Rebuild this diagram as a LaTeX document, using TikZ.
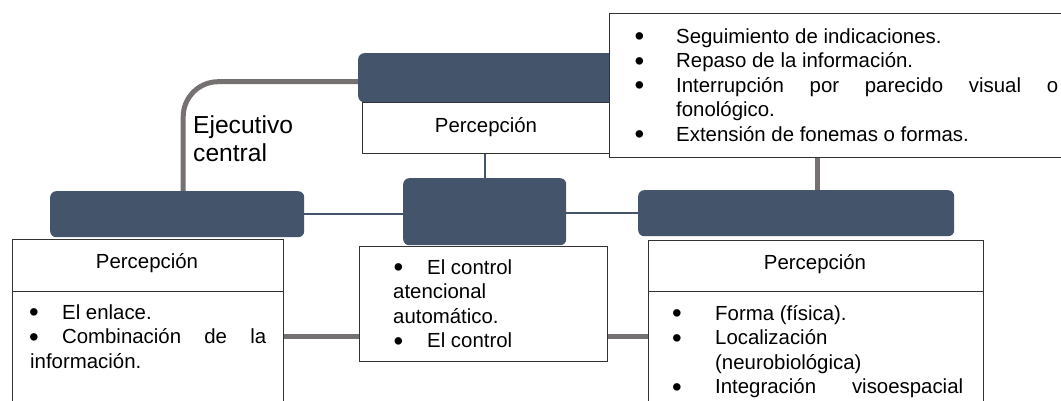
\documentclass[tikz,border=0pt]{standalone}
\usepackage{fontspec}
\usepackage{graphicx}
\setmainfont{Liberation Sans}
\definecolor{hdr}{HTML}{44546A}
\definecolor{conn}{HTML}{767171}
\definecolor{edge}{HTML}{333333}
\newcommand\bodyfont{\fontsize{20.4}{24.5}\selectfont}
\newcommand\bigfont{\fontsize{24.6}{28}\selectfont}
\newcommand\firststrut{\rule{0pt}{20pt}}
\newcommand\bigdot{\raisebox{-2.4pt}{\scalebox{1.35}{\textbullet}}}
\newcommand\bul[1]{\makebox[#1][l]{\hspace*{-1pt}\bigdot}}
\pgfdeclarelayer{background}
\pgfsetlayers{background,main}
\begin{document}
\begin{tikzpicture}[x=1pt,y=-1pt,
  darkbox/.style={fill=hdr, draw=none, rounded corners=6pt, anchor=north west, inner sep=0pt},
  wbox/.style={draw=edge, fill=white, line width=1.4pt, anchor=north west, inner sep=0pt},
  gline/.style={draw=conn, line width=5pt},
  tline/.style={draw=hdr, line width=1.6pt},
  lbl/.style={inner sep=0pt, font=\bodyfont},
  body/.style={anchor=north west, inner sep=0pt, align=left, font=\bodyfont}]

\useasboundingbox (0,0) rectangle (1061,400);
\clip (0,0) rectangle (1061,400);

% dark header bars
\node[darkbox, minimum width=257pt, minimum height=49pt] (topbar) at (358,53) {};
\node[darkbox, minimum width=254pt, minimum height=46pt] (leftbar) at (50,191) {};
\node[darkbox, minimum width=163pt, minimum height=67pt] (midbar) at (403,178) {};
\node[darkbox, minimum width=316pt, minimum height=46pt] (rightbar) at (638,190) {};

% white boxes
\node[wbox, minimum width=250pt, minimum height=51pt] (topperc) at (362,102) {};
\node[wbox, minimum width=271pt, minimum height=52pt] (lhead) at (12,239) {};
\node[wbox, minimum width=271pt, minimum height=125pt] (lbody) at (12,291) {};
\node[wbox, minimum width=248pt, minimum height=115pt] (cbox) at (359,246) {};
\node[wbox, minimum width=335pt, minimum height=51pt] (rhead) at (648,240) {};
\node[wbox, minimum width=335pt, minimum height=125pt] (rbody) at (648,291) {};
\node[wbox, minimum width=470pt, minimum height=144pt] (notes) at (609,13) {};

% headings
\node[lbl, anchor=base] (tpt) at (486,132) {Percepción};
\node[lbl, anchor=base] (lpt) at (147,268) {Percepción};
\node[lbl, anchor=base] (rpt) at (815,269) {Percepción};

\node[anchor=north west, inner sep=0pt, align=left, font=\bigfont] (exec) at (193,111.6)
  {\rule{0pt}{22pt}Ejecutivo\\central};

% bullet lists
\node[body] (notestxt) at (635.5,23)
  {\firststrut\bul{40.5pt}Seguimiento de indicaciones.\\
   \bul{40.5pt}Repaso de la información.\\
   \bul{40.5pt}\makebox[382pt][s]{Interrupción por parecido visual o}\\
   \hspace*{40.5pt}fonológico.\\
   \bul{40.5pt}Extensión de fonemas o formas.};

\node[body] (ltxt) at (30,299)
  {\firststrut\bul{32pt}El enlace.\\
   \makebox[236pt][s]{\hspace*{-1pt}\bigdot{} Combinación de la}\\
   información.};

\node[body] (ctxt) at (393,254)
  {\firststrut\hspace*{1.5pt}\bul{32.5pt}El control\\
   atencional\\
   automático.\\
   \hspace*{1.5pt}\bul{32.5pt}El control};

\node[body] (rtxt) at (673,300)
  {\firststrut\bul{42pt}Forma (física).\\
   \bul{42pt}Localización\\
   \hspace*{42pt}(neurobiológica)\\
   \bul{42pt}\makebox[248pt][s]{Integración visoespacial}};

% connectors behind the boxes
\begin{pgfonlayer}{background}
  \fill[white] (0,0) rectangle (1061,400);
  \draw[gline, rounded corners=35pt] ([yshift=-4pt]topbar.west) -| ([xshift=6pt]leftbar.north);
  \draw[gline] ([xshift=21pt]rightbar.north) -- ([xshift=21pt]rightbar.north |- notes.south);
  \draw[gline] ([yshift=-32.5pt]cbox.west) -- ([yshift=-32.5pt]cbox.west -| lbody.east);
  \draw[gline] ([yshift=-32.5pt]cbox.east) -- ([yshift=-32.5pt]cbox.east -| rbody.west);
  \draw[tline] (midbar.north) -- (midbar.north |- topperc.south);
  \draw[tline] (leftbar.east) -- (leftbar.east -| midbar.west);
  \draw[tline] (rightbar.west) -- (rightbar.west -| midbar.east);
\end{pgfonlayer}
\end{tikzpicture}
\end{document}
